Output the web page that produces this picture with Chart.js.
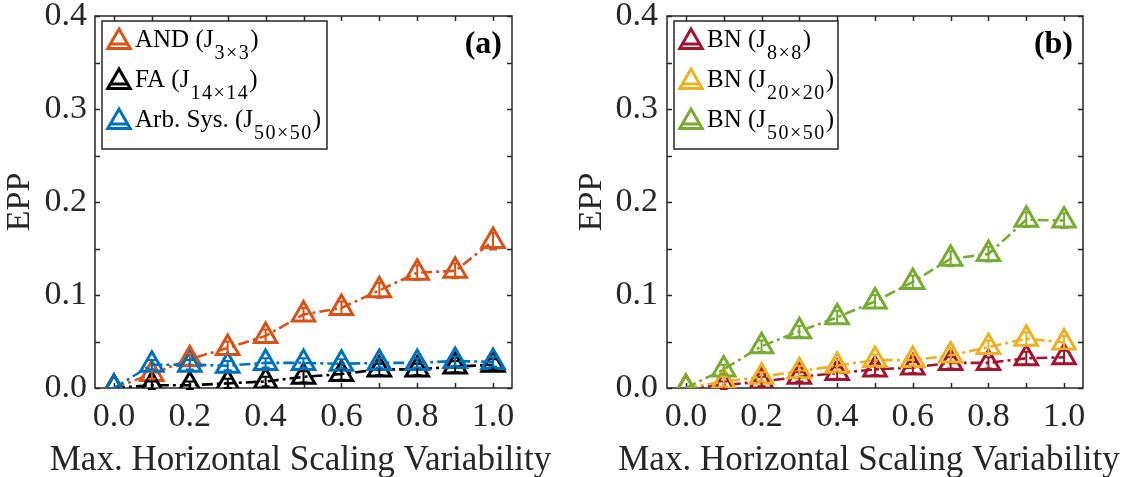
<!DOCTYPE html>
<html><head><meta charset="utf-8">
<script src="https://cdn.jsdelivr.net/npm/chart.js@4.4.1/dist/chart.umd.min.js"></script>
<style>
html,body{margin:0;padding:0;background:#fff;}
#wrap{position:relative;width:1130px;height:477px;overflow:hidden;}
canvas{position:absolute;top:0;}
#ca{left:0;} #cb{left:565px;}
</style></head><body>
<div id="wrap"><canvas id="ca" width="565" height="477"></canvas><canvas id="cb" width="565" height="477"></canvas></div>
<script>
// ---- data ----
const xValues = [0.0, 0.1, 0.2, 0.3, 0.4, 0.5, 0.6, 0.7, 0.8, 0.9, 1.0];
const xTickValues = [0.0, 0.2, 0.4, 0.6, 0.8, 1.0];
const yTickValues = [0.0, 0.1, 0.2, 0.3, 0.4];
const andJ3 = [0.000, 0.015, 0.031, 0.043, 0.056, 0.079, 0.086, 0.105, 0.124, 0.126, 0.158];
const faJ14 = [0.000, 0.003, 0.003, 0.005, 0.007, 0.012, 0.015, 0.020, 0.020, 0.023, 0.025];
const arbJ50 = [0.000, 0.025, 0.025, 0.024, 0.027, 0.027, 0.026, 0.027, 0.027, 0.029, 0.028];
const bnJ8 = [0.000, 0.003, 0.007, 0.012, 0.016, 0.020, 0.022, 0.027, 0.027, 0.032, 0.033];
const bnJ20 = [0.000, 0.007, 0.012, 0.018, 0.024, 0.030, 0.030, 0.035, 0.044, 0.053, 0.049];
const bnJ50 = [0.000, 0.020, 0.045, 0.061, 0.076, 0.093, 0.114, 0.139, 0.144, 0.181, 0.180];
// error-bar half lengths (small bars drawn inside the markers)
const andErr = [0.000, 0.005, 0.006, 0.007, 0.007, 0.007, 0.007, 0.008, 0.008, 0.008, 0.009];
const faErr = [0.000, 0.004, 0.004, 0.005, 0.005, 0.006, 0.006, 0.006, 0.006, 0.006, 0.006];
const arbErr = [0.000, 0.005, 0.005, 0.005, 0.005, 0.005, 0.005, 0.005, 0.005, 0.005, 0.005];
const bn8Err = [0.000, 0.004, 0.005, 0.005, 0.006, 0.006, 0.006, 0.006, 0.006, 0.007, 0.007];
const bn20Err = [0.000, 0.005, 0.005, 0.006, 0.006, 0.006, 0.006, 0.007, 0.007, 0.007, 0.007];
const bn50Err = [0.000, 0.005, 0.006, 0.006, 0.007, 0.007, 0.007, 0.008, 0.008, 0.008, 0.008];
const xTitle = 'Max. Horizontal Scaling Variability';
const yTitle = 'EPP';

const FONT = "'Liberation Serif', 'Times New Roman', serif";
const TXT = '#262626';
const AX = 34;

function ds(label, main, sub, data, err, color, order) {
  return {
    label, legendMain: main, legendSub: sub, errors: err,
    data: xValues.map((x, i) => ({x, y: data[i]})),
    borderColor: color, backgroundColor: 'rgba(0,0,0,0)',
    borderWidth: 2.6, borderDash: [11, 4, 3, 4],
    pointStyle: 'triangle', pointRadius: 13, pointBorderWidth: 3,
    pointBorderColor: color, pointBackgroundColor: 'rgba(0,0,0,0)',
    tension: 0, order
  };
}

const framePlugin = {
  id: 'frame',
  beforeDatasetsDraw(chart) {
    const {ctx, chartArea: a, scales: {x, y}} = chart;
    ctx.save();
    ctx.strokeStyle = TXT; ctx.lineWidth = 1.5; ctx.setLineDash([]);
    const t = 5;
    ctx.beginPath();
    for (let k = 0; k <= 10; k++) {
      const px = Math.round(x.getPixelForValue(k / 10)) + 0.5;
      ctx.moveTo(px, a.bottom); ctx.lineTo(px, a.bottom - t);
      ctx.moveTo(px, a.top); ctx.lineTo(px, a.top + t);
    }
    for (let k = 0; k <= 8; k++) {
      const py = Math.round(y.getPixelForValue(k * 0.05)) + 0.5;
      ctx.moveTo(a.left, py); ctx.lineTo(a.left + t, py);
      ctx.moveTo(a.right, py); ctx.lineTo(a.right - t, py);
    }
    ctx.stroke();
    ctx.strokeRect(a.left, a.top, a.right - a.left, a.bottom - a.top);
    // x-axis title
    ctx.fillStyle = TXT;
    ctx.font = "35px " + FONT;
    ctx.textAlign = 'center'; ctx.textBaseline = 'alphabetic';
    ctx.fillText(xTitle, (a.left + a.right) / 2 + chart.options.plugins.frame.titleShift, 470);
    ctx.restore();
  },
  afterDatasetsDraw(chart) {
    const {ctx, scales: {x, y}} = chart;
    ctx.save();
    ctx.setLineDash([]); ctx.lineWidth = 2;
    chart.data.datasets.forEach(d => {
      ctx.strokeStyle = d.borderColor;
      ctx.beginPath();
      d.data.forEach((p, i) => {
        const e = d.errors[i];
        if (!e) return;
        const px = x.getPixelForValue(p.x);
        const y1 = y.getPixelForValue(p.y - e), y2 = y.getPixelForValue(p.y + e);
        ctx.moveTo(px, y1); ctx.lineTo(px, y2);
        ctx.moveTo(px - 4, y1); ctx.lineTo(px + 4, y1);
        ctx.moveTo(px - 4, y2); ctx.lineTo(px + 4, y2);
      });
      ctx.stroke();
    });
    ctx.restore();
  },
  afterDraw(chart, args, opts) {
    const {ctx, chartArea: a} = chart;
    ctx.save();
    // panel label
    ctx.fillStyle = '#000';
    ctx.font = "bold 32px " + FONT;
    ctx.textAlign = 'right'; ctx.textBaseline = 'alphabetic';
    ctx.fillText(opts.panel, a.right - 10, a.top + 37);
    // legend box
    const [bx, by, bw, bh] = opts.box;
    ctx.fillStyle = '#fff';
    ctx.fillRect(bx, by, bw, bh);
    ctx.strokeStyle = '#262626'; ctx.lineWidth = 1.5;
    ctx.strokeRect(bx, by, bw, bh);
    const sets = chart.data.datasets;
    sets.forEach((d, i) => {
      const cx = bx + 17, cy = by + 21 + i * 40;
      const r = 13;
      ctx.strokeStyle = d.borderColor; ctx.lineWidth = 3; ctx.setLineDash([]);
      ctx.beginPath();
      ctx.moveTo(cx - 9, cy + 2); ctx.lineTo(cx + 9, cy + 2);
      ctx.stroke();
      ctx.beginPath();
      ctx.moveTo(cx, cy - r);
      ctx.lineTo(cx + r * 0.866, cy + r * 0.5);
      ctx.lineTo(cx - r * 0.866, cy + r * 0.5);
      ctx.closePath();
      ctx.stroke();
      // text
      ctx.fillStyle = '#000';
      ctx.textAlign = 'left'; ctx.textBaseline = 'alphabetic';
      let tx = bx + 33; const base = by + 26 + i * 40;
      ctx.font = "25px " + FONT;
      ctx.letterSpacing = '0px';
      ctx.fillText(d.legendMain, tx, base);
      tx += ctx.measureText(d.legendMain).width + 1;
      ctx.font = "20px " + FONT;
      ctx.letterSpacing = '1.5px';
      ctx.fillText(d.legendSub, tx, base + 12);
      tx += ctx.measureText(d.legendSub).width;
      ctx.letterSpacing = '0px';
      ctx.font = "25px " + FONT;
      ctx.fillText(')', tx, base);
    });
    ctx.restore();
  }
};

function makeChart(id, datasets, cfg) {
  return new Chart(document.getElementById(id), {
    type: 'line',
    data: {datasets},
    options: {
      responsive: false, animation: false, events: [],
      devicePixelRatio: 1,
      layout: {padding: {left: 0, right: cfg.padRight, top: 14, bottom: 0}},
      plugins: {legend: {display: false}, tooltip: {enabled: false},
        frame: {box: cfg.box, panel: cfg.panel, titleShift: cfg.titleShift}},
      scales: {
        x: {
          type: 'linear', min: -0.05, max: 1.05,
          afterBuildTicks: s => { s.ticks = xTickValues.map(v => ({value: v})); },
          afterFit: s => { s.height = 89; s.paddingLeft = 0; s.paddingRight = 0; },
          grid: {display: false, drawTicks: false}, border: {display: false},
          ticks: {font: {family: FONT, size: AX}, color: TXT, padding: 9,
            maxRotation: 0, autoSkip: false, callback: v => Number(v).toFixed(1)},
          title: {display: false}
        },
        y: {
          type: 'linear', min: 0, max: 0.4,
          afterBuildTicks: s => { s.ticks = yTickValues.map(v => ({value: v})); },
          afterFit: s => { s.width = cfg.yWidth; s.paddingTop = 0; s.paddingBottom = 0; },
          grid: {display: false, drawTicks: false}, border: {display: false},
          ticks: {font: {family: FONT, size: AX}, color: TXT, padding: cfg.yTickPad,
            autoSkip: false, callback: v => Number(v).toFixed(1)},
          title: {display: true, text: yTitle, color: TXT,
            font: {family: FONT, size: AX}, padding: {top: cfg.yTitlePad, bottom: 0}}
        }
      }
    },
    plugins: [framePlugin]
  });
}

makeChart('ca', [
  ds('AND (J3×3)', 'AND (J', '3×3', andJ3, andErr, '#D95319', 3),
  ds('FA (J14×14)', 'FA (J', '14×14', faJ14, faErr, '#000000', 2),
  ds('Arb. Sys. (J50×50)', 'Arb. Sys. (J', '50×50', arbJ50, arbErr, '#0072BD', 1)
], {padRight: 53, yWidth: 95, yTickPad: 8, yTitlePad: 0, box: [102, 21, 225, 128], panel: '(a)', titleShift: -3});

makeChart('cb', [
  ds('BN (J8×8)', 'BN (J', '8×8', bnJ8, bn8Err, '#A2142F', 3),
  ds('BN (J20×20)', 'BN (J', '20×20', bnJ20, bn20Err, '#EDB120', 2),
  ds('BN (J50×50)', 'BN (J', '50×50', bnJ50, bn50Err, '#77AC30', 1)
], {padRight: 47, yWidth: 102, yTickPad: 9, yTitlePad: 7, box: [109, 21, 164, 128], panel: '(b)', titleShift: -6});
</script>
</body></html>
